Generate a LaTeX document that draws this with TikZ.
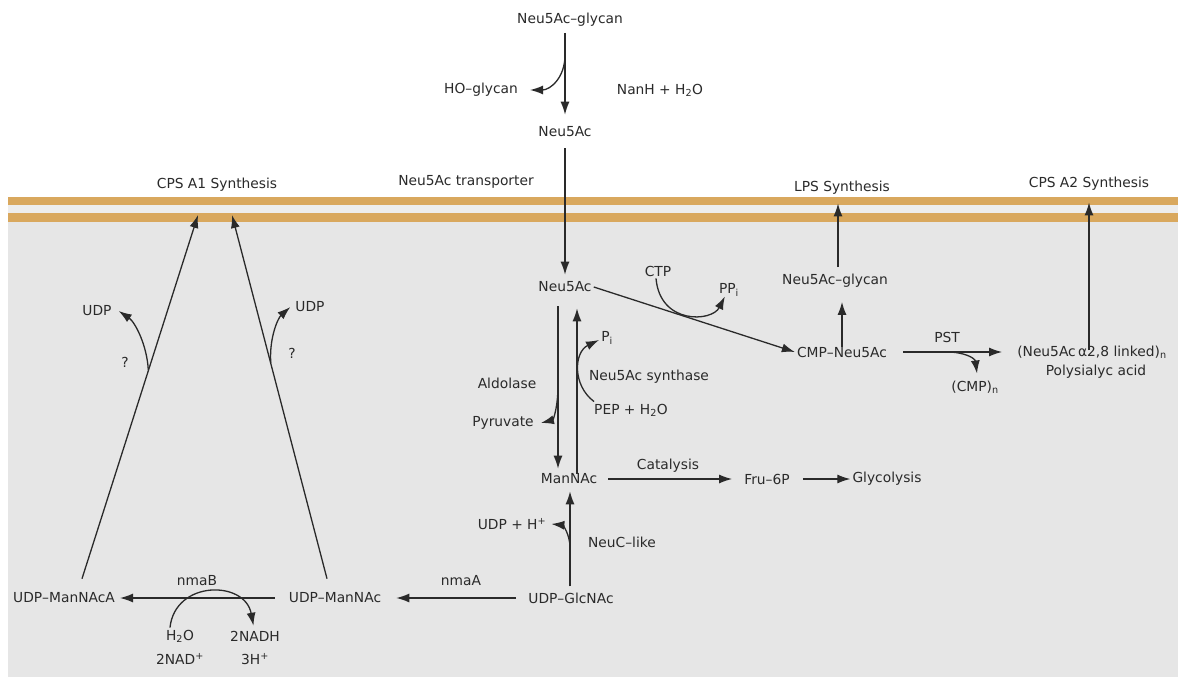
\documentclass[tikz,border=0pt]{standalone}
\usepackage{fontspec}
\setmainfont{DejaVu Sans}
\usetikzlibrary{arrows.meta}
\definecolor{memb}{HTML}{D9A85E}
\definecolor{cyto}{HTML}{E6E6E6}
\definecolor{gapc}{HTML}{EDEDED}
\definecolor{ink}{HTML}{2A2A2A}
\tikzset{
  lbl/.style={text=ink, inner sep=2pt, font=\fontsize{13.8}{16}\selectfont},
  arr/.style={draw=ink, line width=1.3pt, -{Latex[length=13pt,width=9pt]}},
}
\begin{document}
\begin{tikzpicture}[x=1pt,y=-1pt]
\useasboundingbox (0,0) rectangle (1178,677);
\fill[white] (0,0) rectangle (1178,677);
\fill[cyto] (8,222) rectangle (1178,677);
\fill[gapc] (8,205) rectangle (1178,213);
\fill[memb] (8,197) rectangle (1178,205);
\fill[memb] (8,213) rectangle (1178,222);

% labels
\node[lbl] (glycanTop) at (570,20) {Neu5Ac–glycan};
\node[lbl] (hoglycan) at (481,90) {HO–glycan};
\node[lbl] (nanh) at (660,90) {NanH + H\textsubscript{2}O};
\node[lbl] (neuOut) at (565,132) {Neu5Ac};
\node[lbl] (transporter) at (466,182) {Neu5Ac transporter};
\node[lbl] (cpsA1) at (217,185) {CPS A1 Synthesis};
\node[lbl] (lps) at (842,188) {LPS Synthesis};
\node[lbl] (cpsA2) at (1089,184) {CPS A2 Synthesis};
\node[lbl] (neuIn) at (565,287) {Neu5Ac};
\node[lbl] (ctp) at (658,271) {CTP};
\node[lbl] (ppi) at (729,290) {PP\textsubscript{i}};
\node[lbl] (glycanIn) at (835,281) {Neu5Ac–glycan};
\node[lbl] (cmp) at (842,352) {CMP–Neu5Ac};
\node[lbl] (pst) at (947,337) {PST};
\node[lbl] (cmpn) at (975,387) {(CMP)\textsubscript{n}};
\node[lbl] (psa) at (1092,352) {(Neu5Ac\,α2,8 linked)\textsubscript{n}};
\node[lbl] (polys) at (1096,372) {Polysialyc acid};
\node[lbl] (aldolase) at (507,383) {Aldolase};
\node[lbl] (pyruvate) at (503,423) {Pyruvate};
\node[lbl] (pi) at (607,338) {P\textsubscript{i}};
\node[lbl] (synthase) at (649,377) {Neu5Ac synthase};
\node[lbl] (pep) at (631,410) {PEP + H\textsubscript{2}O};
\node[lbl] (mannac) at (569,479) {ManNAc};
\node[lbl] (catalysis) at (668,466) {Catalysis};
\node[lbl] (fru) at (767,479) {Fru–6P};
\node[lbl] (glyc) at (887,479) {Glycolysis};
\node[lbl] (udph) at (512,524) {UDP + H\textsuperscript{+}};
\node[lbl] (neuc) at (622,542) {NeuC–like};
\node[lbl] (udpglc) at (571,598) {UDP–GlcNAc};
\node[lbl] (udpman) at (335,598) {UDP–ManNAc};
\node[lbl] (udpmanA) at (64,598) {UDP–ManNAcA};
\node[lbl] (nmaA) at (461,581) {nmaA};
\node[lbl] (nmaB) at (197,581) {nmaB};
\node[lbl] (h2o) at (180,636) {H\textsubscript{2}O};
\node[lbl] (nad) at (180,659) {2NAD\textsuperscript{+}};
\node[lbl] (nadh) at (255,636) {2NADH};
\node[lbl] (h3) at (255,659) {3H\textsuperscript{+}};
\node[lbl] (udpL) at (97,311) {UDP};
\node[lbl] (qL) at (125,362) {?};
\node[lbl] (udpR) at (310,307) {UDP};
\node[lbl] (qR) at (292,353) {?};

% branch points and membrane ends
\coordinate (b1) at (565,55);
\coordinate (b2) at (558,385);
\coordinate (b3) at (570,548);
\coordinate (b4) at (947,352);
\coordinate (b5) at (148.3,370);
\coordinate (b6) at (270.8,363);
\coordinate (m1) at (198,215);
\coordinate (m2) at (232,215);

% top
\draw[arr, shorten <=4pt, shorten >=10pt] ([xshift=-5pt]glycanTop.south) -- (neuOut.north);
\draw[arr] (b1) .. controls (565,78) and (550,90) .. ([xshift=10pt]hoglycan.east);
\draw[arr, shorten <=9pt, shorten >=5pt] (neuOut.south) -- (neuIn.north);

% CMP branch
\draw[arr] (neuIn.east) -- (cmp.west);
\draw[arr] ([xshift=-2pt]ctp.south) .. controls (660,325) and (712,322) .. ([xshift=8pt,yshift=2pt]ppi.south west);
\draw[arr, shorten <=-2pt, shorten >=12pt] (cmp.north) -- (cmp.north |- glycanIn.south);
\draw[arr, shorten <=5pt, shorten >=6.5pt] ([xshift=3pt]glycanIn.north) -- ([xshift=-4pt]lps.south);
\draw[arr] ([xshift=14pt]cmp.east) -- ([xshift=-13pt]psa.west);
\draw[arr] (b4) .. controls (964,352) and (975,358) .. ([xshift=2pt,yshift=5pt]cmpn.north);
\draw[arr, shorten <=-7pt, shorten >=9.5pt] ([xshift=-3pt]psa.north) -- (cpsA2.south);

% aldolase / synthase
\draw[arr, shorten <=12pt, shorten >=3pt] ([xshift=-7pt]neuIn.south) -- ([xshift=-11pt]mannac.north);
\draw[arr, shorten <=-2pt, shorten >=14pt] ([xshift=8pt]mannac.north) -- ([xshift=12pt]neuIn.south);
\draw[arr] (b2) .. controls (558,408) and (553,420) .. ([xshift=5pt]pyruvate.east);
\draw[arr] ([xshift=2pt]pep.north west) .. controls (572,385) and (574,352) .. ([yshift=-2pt]pi.west);

% catalysis
\draw[arr] ([xshift=9pt]mannac.east) -- ([xshift=-10pt]fru.west);
\draw[arr] ([xshift=11pt]fru.east) -- (glyc.west);

% NeuC
\draw[arr, shorten <=4pt, shorten >=5pt] ([xshift=-1pt]udpglc.north) -- ([xshift=1pt]mannac.south);
\draw[arr] (b3) .. controls (570,533) and (562,525) .. ([xshift=3pt]udph.east);

% bottom row
\draw[arr] ([xshift=-10pt]udpglc.west) -- ([xshift=13pt]udpman.east);
\draw[arr] ([xshift=-12pt]udpman.west) -- ([xshift=3pt]udpmanA.east);
\draw[arr, shorten >=3pt] ([xshift=-10pt]h2o.north) .. controls (175,580) and (245,580) .. ([xshift=-1pt]nadh.north);

% CPS A1
\draw[arr] ([xshift=18pt,yshift=12pt]udpmanA.north) -- (m1);
\draw[arr] ([xshift=-8pt,yshift=12pt]udpman.north) -- (m2);
\draw[arr] (b5) .. controls (147,345) and (135,322) .. ([xshift=5pt]udpL.east);
\draw[arr] (b6) .. controls (269,338) and (278,318) .. ([xshift=-3pt]udpR.west);
\end{tikzpicture}
\end{document}
